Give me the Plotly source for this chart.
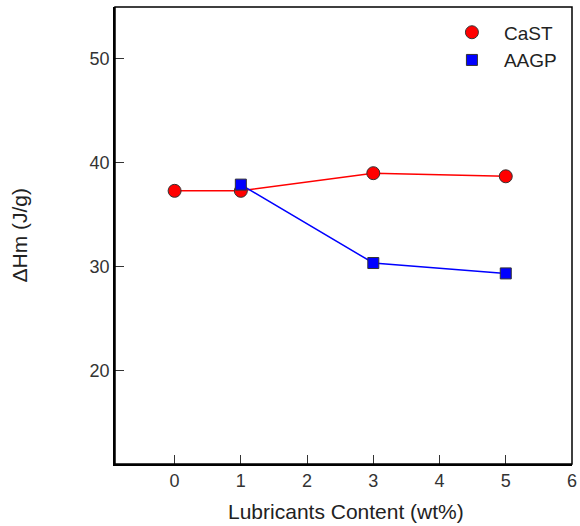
import plotly.graph_objects as go

cast_x = [0, 1, 3, 5]
cast_y = [37.3, 37.3, 39.0, 38.7]
aagp_x = [1, 3, 5]
aagp_y = [37.9, 30.35, 29.35]
x_ticks = [0, 1, 2, 3, 4, 5, 6]
y_ticks = [20, 30, 40, 50]

font = "Liberation Sans, Arial, sans-serif"

cast_marker = dict(symbol="circle", size=13, color="#ff0000", line=dict(color="#333333", width=1))
aagp_marker = dict(symbol="square", size=11, color="#0000ff", line=dict(color="#333333", width=1))

fig = go.Figure()
fig.add_trace(go.Scatter(x=cast_x, y=cast_y, name="CaST", mode="lines+markers", showlegend=False,
                         line=dict(color="#ff0000", width=1.5), marker=cast_marker))
fig.add_trace(go.Scatter(x=aagp_x, y=aagp_y, name="AAGP", mode="lines+markers", showlegend=False,
                         line=dict(color="#0000ff", width=1.5), marker=aagp_marker))
# legend entries (markers only)
fig.add_trace(go.Scatter(x=[None], y=[None], name="CaST", mode="markers", marker=cast_marker))
fig.add_trace(go.Scatter(x=[None], y=[None], name="AAGP", mode="markers", marker=aagp_marker))

axis_common = dict(showgrid=False, zeroline=False, showline=True, linecolor="black",
                   linewidth=1.5, ticks="inside", ticklen=9, tickcolor="#333333",
                   tickfont=dict(family=font, size=18, color="#333333"), mirror=False,
                   automargin=False)

fig.update_layout(
    width=580, height=526,
    margin=dict(l=115, r=8, t=7, b=62, autoexpand=False),
    plot_bgcolor="white", paper_bgcolor="white",
    font=dict(family=font, color="#222222"),
    xaxis=dict(range=[-0.9, 6], tickvals=x_ticks, **axis_common),
    yaxis=dict(range=[11, 55], tickvals=y_ticks, **axis_common),
    legend=dict(x=0.711, y=0.986, xanchor="left", yanchor="top",
                font=dict(family=font, size=19, color="#222222"),
                bgcolor="rgba(0,0,0,0)", itemwidth=54, tracegroupgap=0),
    showlegend=True,
    annotations=[
        dict(text="Lubricants Content (wt%)", xref="paper", yref="paper", x=0.505, y=0,
             yshift=-47, xanchor="center", yanchor="middle", showarrow=False,
             font=dict(family=font, size=21, color="#222222")),
        dict(text="ΔHm (J/g)", xref="paper", yref="paper", x=0, y=0.5, xshift=-96,
             xanchor="center", yanchor="middle", textangle=-90, showarrow=False,
             font=dict(family=font, size=21, color="#222222")),
    ],
)
fig.add_shape(type="rect", xref="paper", yref="paper", x0=0, y0=0, x1=1, y1=1,
              line=dict(color="black", width=1.5))

fig.write_html("out.html")
